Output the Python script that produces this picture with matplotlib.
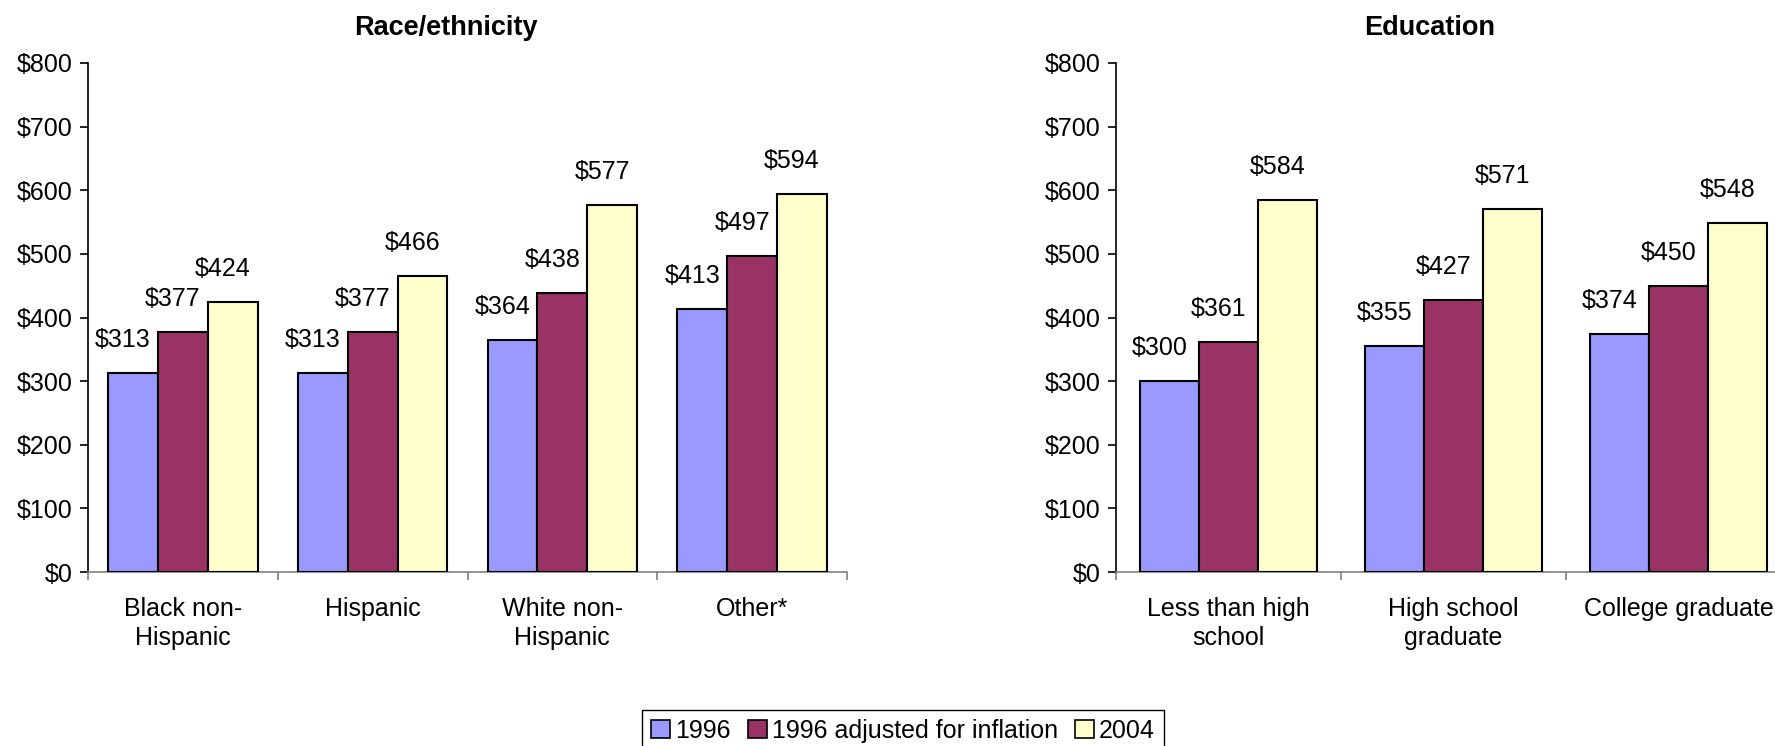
import matplotlib
matplotlib.use("Agg")
import matplotlib.pyplot as plt
from matplotlib.patches import Patch
import numpy as np

plt.rcParams['font.family'] = ['Liberation Sans', 'DejaVu Sans']

series_names = ['1996', '1996 adjusted for inflation', '2004']
colors = ['#9999FF', '#993366', '#FFFFCC']

race_cats = ['Black non-\nHispanic', 'Hispanic', 'White non-\nHispanic', 'Other*']
race_1996 = [313, 313, 364, 413]
race_1996_adj = [377, 377, 438, 497]
race_2004 = [424, 466, 577, 594]

edu_cats = ['Less than high\nschool', 'High school\ngraduate', 'College graduate']
edu_1996 = [300, 355, 374]
edu_1996_adj = [361, 427, 450]
edu_2004 = [584, 571, 548]

W, H = 1775, 746
FS = 18
fig = plt.figure(figsize=(W / 100, H / 100), dpi=100)


def draw_panel(rect, cats, values, title, title_x):
    ax = fig.add_axes(rect)
    n = len(cats)
    x = np.arange(n)
    bw = 0.263
    for j, vals in enumerate(values):
        pos = x + (j - 1) * bw
        ax.bar(pos, vals, width=bw, color=colors[j], edgecolor='black',
               linewidth=1.5, zorder=3)
        for p, v in zip(pos, vals):
            ax.annotate(f'${v}', (p, v), xytext=(-10, 21), textcoords='offset pixels',
                        ha='center', va='bottom', fontsize=FS)
    ax.set_xlim(-0.5, n - 0.5)
    ax.set_ylim(0, 800)
    ax.set_yticks(range(0, 801, 100))
    ax.set_yticklabels([f'${v}' for v in range(0, 801, 100)], fontsize=FS)
    ax.set_xticks(x)
    ax.set_xticklabels(cats, fontsize=FS, linespacing=1.28)
    ax.set_xticks(np.arange(-0.5, n, 1.0), minor=True)
    ax.tick_params(axis='x', which='major', length=0, pad=18)
    ax.tick_params(axis='x', which='minor', length=6, color='#808080', width=1.2)
    ax.tick_params(axis='y', length=6, width=1.2, color='black', pad=5)
    for s in ['top', 'right']:
        ax.spines[s].set_visible(False)
    ax.spines['left'].set_color('black')
    ax.spines['left'].set_linewidth(1.2)
    ax.spines['bottom'].set_color('#808080')
    ax.spines['bottom'].set_linewidth(1.2)
    fig.text(title_x / W, 1 - 28 / H, title, ha='center', va='center',
             fontsize=19.5, fontweight='bold')
    return ax


y0 = 1 - 572 / H
h = (572 - 63) / H
draw_panel([88 / W, y0, (847 - 88) / W, h], race_cats,
           [race_1996, race_1996_adj, race_2004], 'Race/ethnicity', 446)
draw_panel([1116 / W, y0, 675 / W, h], edu_cats,
           [edu_1996, edu_1996_adj, edu_2004], 'Education', 1430)

handles = [Patch(facecolor=c, edgecolor='black', linewidth=1.2) for c in colors]
fig.legend(handles, series_names, loc='upper center',
           bbox_to_anchor=(903 / W, 1 - 710 / H), ncol=3, fontsize=FS,
           frameon=True, fancybox=False, edgecolor='black', framealpha=1,
           handlelength=0.75, handleheight=0.75, handletextpad=0.2,
           columnspacing=0.7, borderpad=0.35, borderaxespad=0)

fig.savefig('out.png', dpi=100)
